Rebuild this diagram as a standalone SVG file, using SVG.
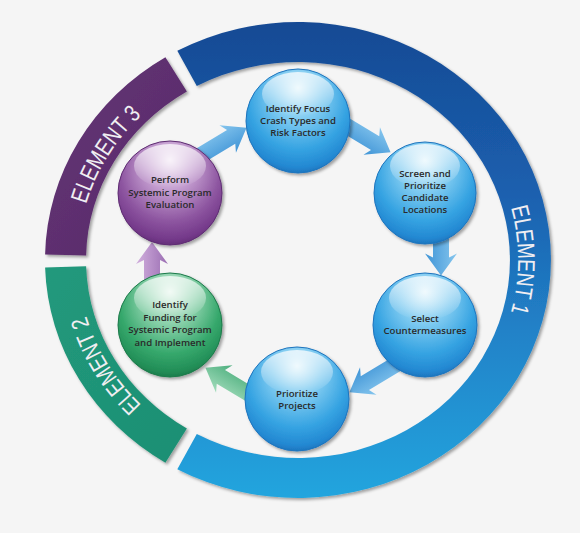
<svg xmlns="http://www.w3.org/2000/svg" width="580" height="533" viewBox="0 0 580 533">
<style>
.lbl{font-family:"Liberation Sans Narrow","Liberation Sans",Arial,sans-serif;font-size:24px;fill:#f0eef2}
.nt{font-family:"Open Sans","Liberation Sans",Arial,sans-serif;font-weight:600;font-size:9.6px;fill:#2a2a2a;text-anchor:middle}
.hl{fill:url(#gHi)}
</style>
<defs>
<filter id="sh" x="-20%" y="-20%" width="140%" height="140%">
<feDropShadow dx="2" dy="2" stdDeviation="1.5" flood-color="#000" flood-opacity="0.35"/>
</filter>
<linearGradient id="gRingBlue" gradientUnits="userSpaceOnUse" x1="0" y1="22" x2="0" y2="498">
<stop offset="0" stop-color="#164a94"/>
<stop offset="0.35" stop-color="#1b5fae"/>
<stop offset="0.65" stop-color="#2182c8"/>
<stop offset="1" stop-color="#22a5de"/>
</linearGradient>
<linearGradient id="gRingPurple" x1="0" y1="0" x2="1" y2="1">
<stop offset="0" stop-color="#643476"/>
<stop offset="1" stop-color="#572a68"/>
</linearGradient>
<linearGradient id="gRingGreen" x1="0" y1="0" x2="1" y2="1">
<stop offset="0" stop-color="#21997c"/>
<stop offset="1" stop-color="#1d8f73"/>
</linearGradient>
<radialGradient id="gBlue" cx="50%" cy="35%" r="68%" fx="50%" fy="18%">
<stop offset="0" stop-color="#e2f5fc"/>
<stop offset="0.35" stop-color="#82ccf1"/>
<stop offset="0.7" stop-color="#35a3e2"/>
<stop offset="0.9" stop-color="#2388d2"/>
<stop offset="1" stop-color="#1a6cb5"/>
</radialGradient>
<radialGradient id="gPurple" cx="50%" cy="35%" r="68%" fx="50%" fy="18%">
<stop offset="0" stop-color="#f3e8f5"/>
<stop offset="0.35" stop-color="#c39ccf"/>
<stop offset="0.7" stop-color="#8d55a0"/>
<stop offset="0.9" stop-color="#74398a"/>
<stop offset="1" stop-color="#5c2a70"/>
</radialGradient>
<radialGradient id="gGreen" cx="50%" cy="35%" r="68%" fx="50%" fy="18%">
<stop offset="0" stop-color="#e6f6ec"/>
<stop offset="0.35" stop-color="#8fd3ae"/>
<stop offset="0.7" stop-color="#36a86c"/>
<stop offset="0.9" stop-color="#228e57"/>
<stop offset="1" stop-color="#1a7446"/>
</radialGradient>
<linearGradient id="gHi" x1="0" y1="0" x2="0" y2="1">
<stop offset="0" stop-color="#fff" stop-opacity="0.75"/>
<stop offset="1" stop-color="#fff" stop-opacity="0"/>
</linearGradient>
<linearGradient id="aBlue" x1="0" y1="0" x2="0" y2="1">
<stop offset="0" stop-color="#86c6ee"/>
<stop offset="1" stop-color="#3f94d6"/>
</linearGradient>
<linearGradient id="aGreen" x1="0" y1="0" x2="0" y2="1">
<stop offset="0" stop-color="#a2dcbb"/>
<stop offset="1" stop-color="#4cae7d"/>
</linearGradient>
<linearGradient id="aPurple" x1="0" y1="0" x2="0" y2="1">
<stop offset="0" stop-color="#d2b0de"/>
<stop offset="1" stop-color="#9a6db2"/>
</linearGradient>
<path id="arD" d="M-40,-8 H6 L2,-16 L24,0 L2,16 L6,8 H-40 Z"/>
<path id="arV" d="M-40,-8 H-1 L-5,-16 L17,0 L-5,16 L-1,8 H-40 Z"/>
<path id="tp1" d="M478.2,141.8 A220,206 0 0 1 478.2,378.2"/>
<path id="tp3" d="M78.8,242 A220,206 0 0 1 171.8,91.3"/>
<path id="tp2" d="M171.8,428.7 A220,206 0 0 1 78.8,278"/>
</defs>
<rect width="580" height="533" fill="#f5f5f5"/>

<g id="element-1">
<path d="M177.3,50.8 A253,238 0 1 1 177.3,469.2 L196.8,434 A212,198 0 1 0 196.8,86 Z" fill="url(#gRingBlue)" filter="url(#sh)"/>
<text class="lbl"><textPath href="#tp1" startOffset="50%" text-anchor="middle" textLength="106" lengthAdjust="spacingAndGlyphs">ELEMENT 1</textPath></text>
</g>
<g id="element-3">
<path d="M45.1,254.6 A253,238 0 0 1 165.4,57.3 L186.9,91.4 A212,198 0 0 0 86.1,255.5 Z" fill="url(#gRingPurple)" filter="url(#sh)"/>
<text class="lbl"><textPath href="#tp3" startOffset="38.5" textLength="64.7" lengthAdjust="spacingAndGlyphs">ELEME</textPath></text>
<text class="lbl"><textPath href="#tp3" startOffset="103.2" textLength="41.3" lengthAdjust="spacingAndGlyphs">NT 3</textPath></text>
</g>
<g id="element-2">
<path d="M165.4,462.7 A253,238 0 0 1 45.1,267.5 L86.1,266.2 A212,198 0 0 0 186.9,428.6 Z" fill="url(#gRingGreen)" filter="url(#sh)"/>
<text class="lbl"><textPath href="#tp2" startOffset="38.5" textLength="64.7" lengthAdjust="spacingAndGlyphs">ELEME</textPath></text>
<text class="lbl"><textPath href="#tp2" startOffset="103.2" textLength="41.3" lengthAdjust="spacingAndGlyphs">NT 2</textPath></text>
</g>

<g id="connectors">
<use href="#arD" transform="translate(226,140) rotate(-31)" fill="url(#aBlue)"/>
<use href="#arD" transform="translate(370,140) rotate(31)" fill="url(#aBlue)"/>
<use href="#arV" transform="translate(441,258.5) rotate(90)" fill="url(#aBlue)"/>
<use href="#arD" transform="translate(370,380) rotate(149)" fill="url(#aBlue)"/>
<use href="#arD" transform="translate(226,380) rotate(211)" fill="url(#aGreen)"/>
<use href="#arV" transform="translate(152,259) rotate(-90)" fill="url(#aPurple)"/>
</g>

<g id="node-1">
<circle cx="298" cy="121" r="52" fill="url(#gBlue)" stroke="#1e74bd" stroke-width="1" filter="url(#sh)"/>
<ellipse class="hl" cx="298" cy="94" rx="36" ry="22"/>
<text class="nt" x="298" y="111.5">Identify Focus</text>
<text class="nt" x="298" y="123.5">Crash Types and</text>
<text class="nt" x="298" y="135.5">Risk Factors</text>
</g>
<g id="node-2">
<circle cx="425" cy="193" r="51" fill="url(#gBlue)" stroke="#1e74bd" stroke-width="1" filter="url(#sh)"/>
<ellipse class="hl" cx="425" cy="166" rx="35" ry="22"/>
<text class="nt" x="425" y="176.5">Screen and</text>
<text class="nt" x="425" y="188.5">Prioritize</text>
<text class="nt" x="425" y="200.5">Candidate</text>
<text class="nt" x="425" y="212.5">Locations</text>
</g>
<g id="node-3">
<circle cx="425" cy="325" r="52" fill="url(#gBlue)" stroke="#1e74bd" stroke-width="1" filter="url(#sh)"/>
<ellipse class="hl" cx="425" cy="298" rx="36" ry="22"/>
<text class="nt" x="425" y="322">Select</text>
<text class="nt" x="425" y="334">Countermeasures</text>
</g>
<g id="node-4">
<circle cx="297" cy="399" r="52" fill="url(#gBlue)" stroke="#1e74bd" stroke-width="1" filter="url(#sh)"/>
<ellipse class="hl" cx="297" cy="372" rx="36" ry="22"/>
<text class="nt" x="297" y="397">Prioritize</text>
<text class="nt" x="297" y="409">Projects</text>
</g>
<g id="node-5">
<circle cx="170" cy="325" r="52" fill="url(#gGreen)" stroke="#1c7a4a" stroke-width="1" filter="url(#sh)"/>
<ellipse class="hl" cx="170" cy="298" rx="36" ry="22"/>
<text class="nt" x="170" y="308">Identify</text>
<text class="nt" x="170" y="320.5">Funding for</text>
<text class="nt" x="170" y="333">Systemic Program</text>
<text class="nt" x="170" y="345.5">and Implement</text>
</g>
<g id="node-6">
<circle cx="170" cy="193" r="52" fill="url(#gPurple)" stroke="#5e2c72" stroke-width="1" filter="url(#sh)"/>
<ellipse class="hl" cx="170" cy="166" rx="36" ry="22"/>
<text class="nt" x="170" y="183">Perform</text>
<text class="nt" x="170" y="195.5">Systemic Program</text>
<text class="nt" x="170" y="208">Evaluation</text>
</g>
</svg>
